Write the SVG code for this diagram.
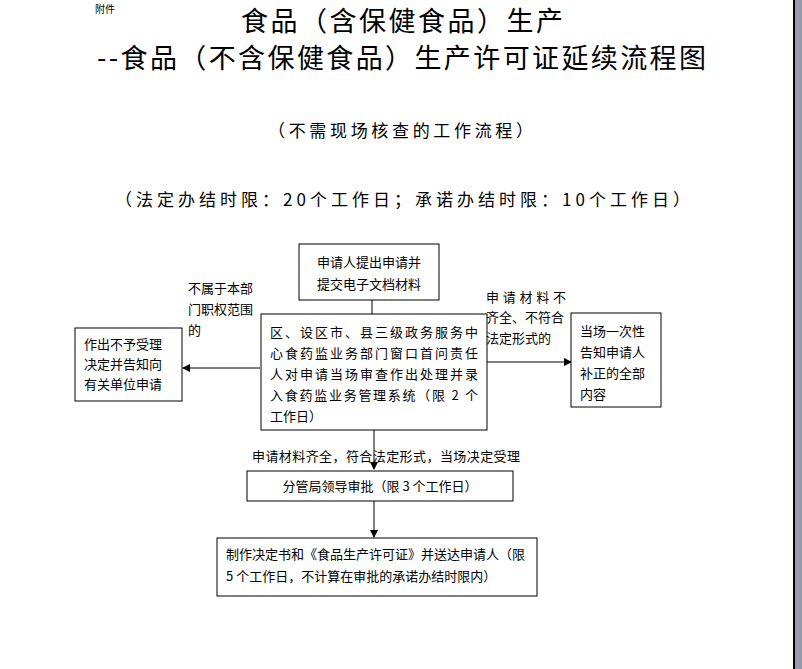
<svg xmlns="http://www.w3.org/2000/svg" width="802" height="669" viewBox="0 0 802 669">
<defs>
<style>
text{font-family:"Noto Sans CJK SC","Noto Sans CJK JP",sans-serif;fill:#000}
.t{font-size:13px}
.box{fill:#fff;stroke:#000;stroke-width:1}
.ln{stroke:#000;stroke-width:1;fill:none}
</style>
<marker id="ah" markerWidth="8" markerHeight="8" refX="7" refY="4" orient="auto" markerUnits="userSpaceOnUse"><path d="M0,0 L8,4 L0,8 z" fill="#000"/></marker>
</defs>
<rect width="802" height="669" fill="#fff"/>
<rect x="793" y="0" width="2" height="669" fill="#000"/>
<rect x="795" y="0" width="7" height="669" fill="#959aad"/>
<text x="95" y="13" font-size="10">附件</text>
<text x="241" y="31" font-size="27" textLength="322" lengthAdjust="spacing">食品（含保健食品）生产</text>
<text x="97" y="68" font-size="27" textLength="609" lengthAdjust="spacing">--食品（不含保健食品）生产许可证延续流程图</text>
<text x="268" y="137" font-size="17" textLength="265" lengthAdjust="spacing">（不需现场核查的工作流程）</text>
<text x="115" y="206" font-size="17" textLength="575" lengthAdjust="spacing">（法定办结时限：20个工作日；承诺办结时限：10个工作日）</text>
<g id="connectors">
<line class="ln" x1="372" y1="300" x2="372" y2="314"/>
<line class="ln" x1="374" y1="430" x2="374" y2="469" marker-end="url(#ah)"/>
<line class="ln" x1="260" y1="368" x2="183" y2="368" marker-end="url(#ah)"/>
<line class="ln" x1="487" y1="362" x2="571" y2="362" marker-end="url(#ah)"/>
<line class="ln" x1="374" y1="501" x2="374" y2="537" marker-end="url(#ah)"/>
</g>
<g id="n1"><rect class="box" x="299" y="244" width="140" height="56"/>
<text class="t" x="369" y="267" text-anchor="middle">申请人提出申请并</text>
<text class="t" x="369" y="289" text-anchor="middle">提交电子文档材料</text></g>
<g id="n2"><rect class="box" x="261" y="314" width="226" height="116"/>
<text class="t" x="270" y="337" textLength="208">区、设区市、县三级政务服务中</text>
<text class="t" x="270" y="358" textLength="208">心食药监业务部门窗口首问责任</text>
<text class="t" x="270" y="379" textLength="208">人对申请当场审查作出处理并录</text>
<text class="t" x="270" y="400" textLength="208">入食药监业务管理系统（限 2 个</text>
<text class="t" x="270" y="421">工作日）</text></g>
<g id="n3"><rect class="box" x="75" y="328" width="107" height="73"/>
<text class="t" x="84" y="349">作出不予受理</text>
<text class="t" x="84" y="369">决定并告知向</text>
<text class="t" x="84" y="389">有关单位申请</text></g>
<g id="n4"><rect class="box" x="571" y="313" width="90" height="94"/>
<text class="t" x="580" y="336">当场一次性</text>
<text class="t" x="580" y="357">告知申请人</text>
<text class="t" x="580" y="378">补正的全部</text>
<text class="t" x="580" y="399">内容</text></g>
<g id="n5"><rect class="box" x="247" y="471" width="266" height="30"/>
<text class="t" x="380" y="491" text-anchor="middle">分管局领导审批（限 3 个工作日）</text></g>
<g id="n6"><rect class="box" x="217" y="538" width="320" height="58"/>
<text class="t" x="226" y="559">制作决定书和《食品生产许可证》并送达申请人（限</text>
<text class="t" x="226" y="581">5 个工作日，不计算在审批的承诺办结时限内）</text></g>
<g id="labels">
<text class="t" x="188" y="293">不属于本部</text>
<text class="t" x="188" y="314">门职权范围</text>
<text class="t" x="188" y="335">的</text>
<text class="t" x="486" y="302" textLength="80">申请材料不</text>
<text class="t" x="486" y="322">齐全、不符合</text>
<text class="t" x="486" y="343">法定形式的</text>
<text class="t" x="252" y="461" textLength="268">申请材料齐全，符合法定形式，当场决定受理</text>
</g>
</svg>
